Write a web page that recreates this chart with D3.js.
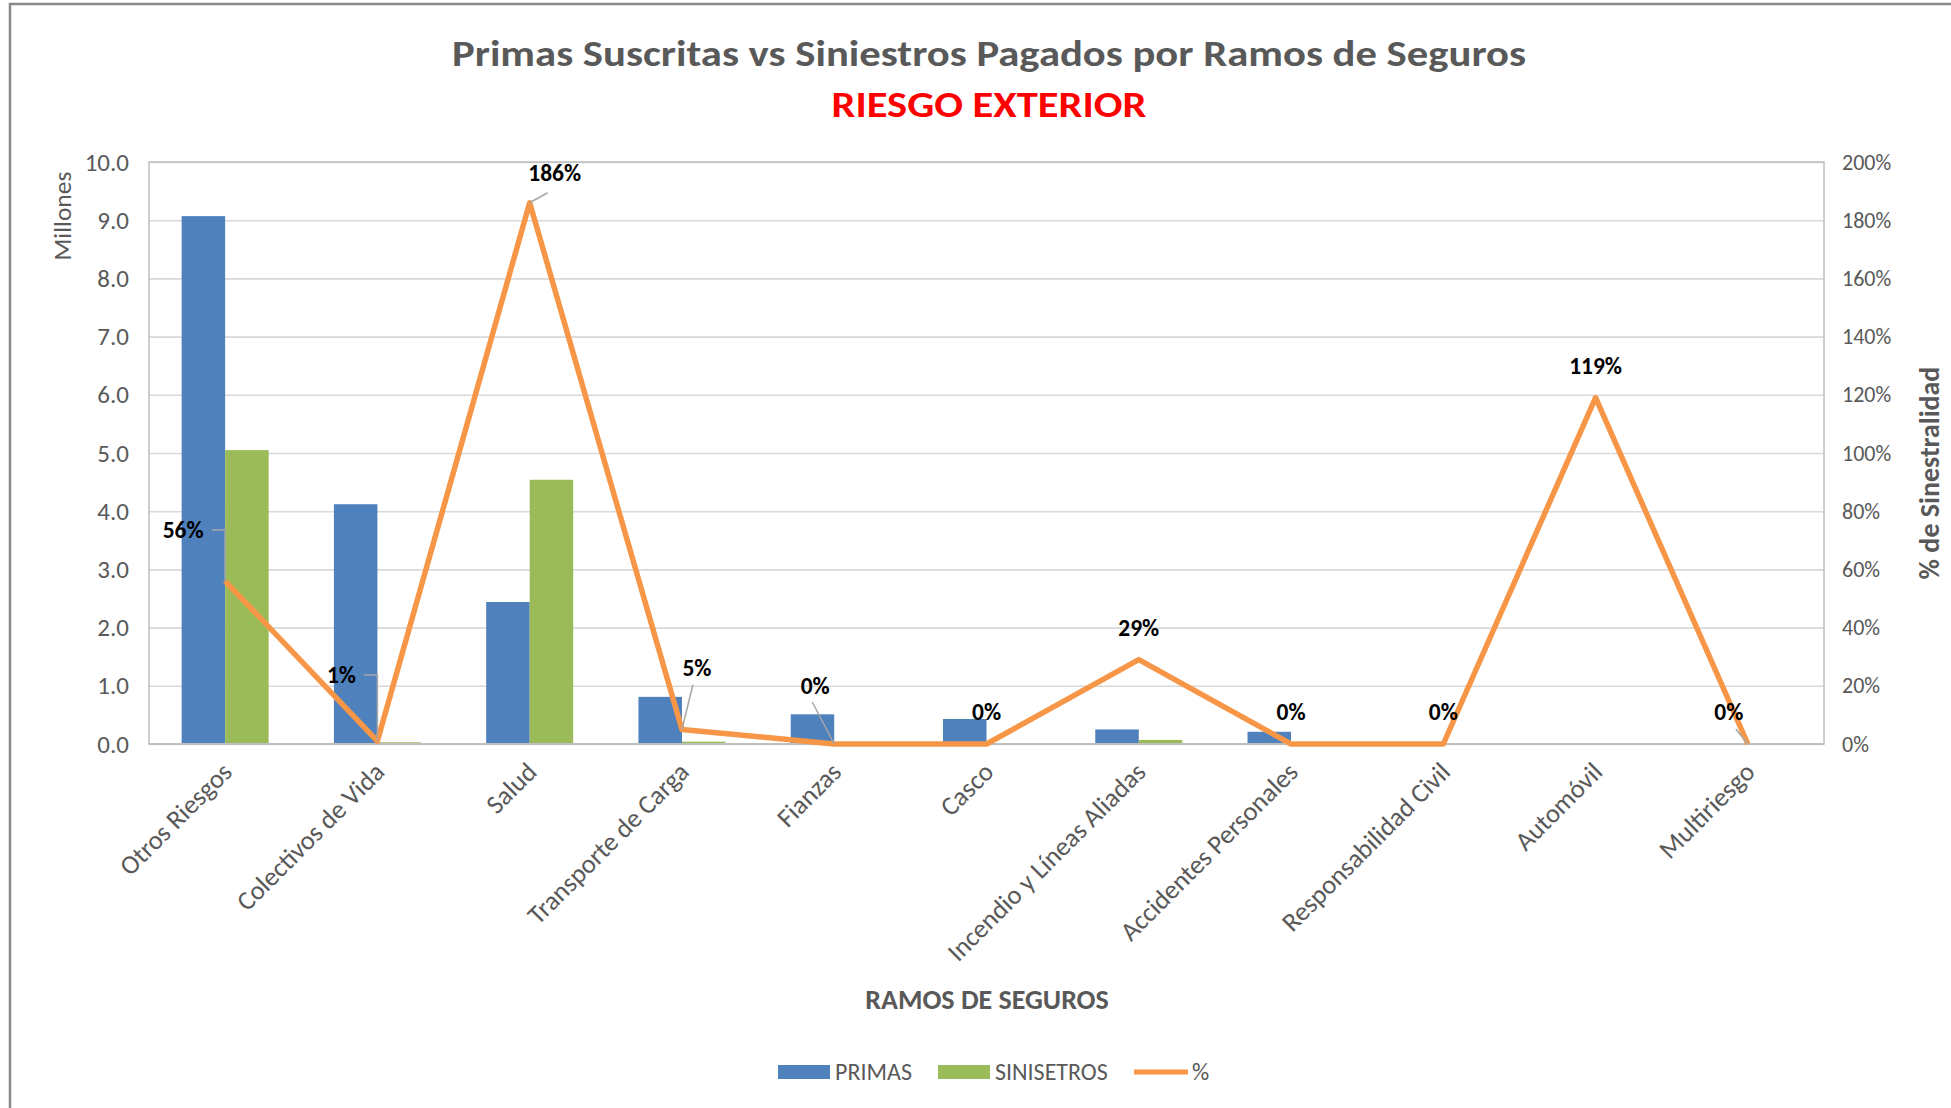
<!DOCTYPE html>
<html>
<head>
<meta charset="utf-8">
<script src="https://cdn.jsdelivr.net/npm/d3@7"></script>
<style>
  html, body { margin: 0; padding: 0; background: #fff; }
  svg { display: block; font-family: Calibri, Carlito, "Open Sans", sans-serif; }
</style>
</head>
<body>
<svg width="1951" height="1108"></svg>
<script>
// data (millions / ratio)
const categories = ["Otros Riesgos", "Colectivos de Vida", "Salud", "Transporte de Carga", "Fianzas", "Casco",
    "Incendio y Líneas Aliadas", "Accidentes Personales", "Responsabilidad Civil", "Automóvil", "Multiriesgo"];
const primas = [9.07, 4.12, 2.44, 0.81, 0.51, 0.43, 0.25, 0.21, 0, 0.005, 0.004];
const siniestros = [5.05, 0.03, 4.54, 0.04, 0, 0, 0.07, 0, 0, 0.006, 0];
const siniestralidad = [0.56, 0.01, 1.86, 0.05, 0, 0, 0.29, 0, 0, 1.19, 0];
const leftTicks = [0, 1, 2, 3, 4, 5, 6, 7, 8, 9, 10];
const rightTicks = [0, 0.2, 0.4, 0.6, 0.8, 1.0, 1.2, 1.4, 1.6, 1.8, 2.0];
const seriesNames = ["PRIMAS", "SINISETROS", "%"];

// where excel left the data labels (offset from point), and leader lines
const labelLayout = [
    {dx: -42, dy: -51, lead: 'elbow'},
    {dx: -36, dy: -66, lead: 'elbow'},
    {dx: 25, dy: -30, lead: [-7, 20]},
    {dx: 15, dy: -62, lead: [-4, 17]},
    {dx: -19, dy: -58, lead: [-3, 16]},
    {dx: 0, dy: -32},
    {dx: 0, dy: -32},
    {dx: 0, dy: -32},
    {dx: 0, dy: -32},
    {dx: 0, dy: -32},
    {dx: -19, dy: -32, lead: [7, 17]}
];

const colors = {primas: '#4F81BD', siniestros: '#9BBB59', pct: '#F79646', text: '#595959', grid: '#D9D9D9'};
const plot = {left: 149, right: 1824, top: 162, bottom: 744};

const svg = d3.select('svg');

// outer chart frame
svg.append('rect')
    .attr('x', 10).attr('y', 4)
    .attr('width', 2100).attr('height', 1300)
    .attr('fill', 'none')
    .attr('stroke', '#888')
    .attr('stroke-width', 2.5);

const x = d3.scaleBand().domain(categories).range([plot.left, plot.right]).paddingInner(0).paddingOuter(0);
const xSeries = d3.scaleBand().domain(['p', 's']).range([0, x.bandwidth()]).paddingInner(0).paddingOuter(0.75);
const yLeft = d3.scaleLinear().domain([0, 10]).range([plot.bottom, plot.top]);
const yRight = d3.scaleLinear().domain([0, 2]).range([plot.bottom, plot.top]);

// gridlines
svg.append('g')
    .attr('transform', `translate(${plot.left},0)`)
    .call(d3.axisLeft(yLeft).tickValues(leftTicks).tickSize(-(plot.right - plot.left)).tickFormat(''))
    .call(g => g.select('.domain').remove())
    .call(g => g.selectAll('line').attr('stroke', colors.grid).attr('stroke-width', 1.6));

// plot area border
svg.append('rect')
    .attr('x', plot.left).attr('y', plot.top)
    .attr('width', plot.right - plot.left).attr('height', plot.bottom - plot.top)
    .attr('fill', 'none').attr('stroke', '#BFBFBF').attr('stroke-width', 1.5);

// left axis labels
svg.append('g')
    .attr('transform', `translate(${plot.left},0)`)
    .call(d3.axisLeft(yLeft).tickValues(leftTicks).tickSize(0).tickPadding(20).tickFormat(d3.format('.1f')))
    .call(g => g.select('.domain').remove())
    .call(g => g.selectAll('text').attr('fill', colors.text).style('font-size', '25px')
        .style('font-family', 'Calibri, Carlito, "Open Sans", sans-serif'));

// right axis labels
svg.append('g')
    .attr('transform', `translate(${plot.right},0)`)
    .call(d3.axisRight(yRight).tickValues(rightTicks).tickSize(0).tickPadding(18).tickFormat(d3.format('.0%')))
    .call(g => g.select('.domain').remove())
    .call(g => g.selectAll('text').attr('fill', colors.text).style('font-size', '22px')
        .style('font-family', 'Calibri, Carlito, "Open Sans", sans-serif'));

// bars
const bars = svg.append('g');
bars.selectAll('rect.primas')
    .data(primas).enter()
    .append('rect')
    .attr('class', 'primas')
    .attr('x', (d, i) => x(categories[i]) + xSeries('p'))
    .attr('width', xSeries.bandwidth())
    .attr('y', d => yLeft(d))
    .attr('height', d => yLeft(0) - yLeft(d))
    .attr('fill', colors.primas);
bars.selectAll('rect.sin')
    .data(siniestros).enter()
    .append('rect')
    .attr('class', 'sin')
    .attr('x', (d, i) => x(categories[i]) + xSeries('s'))
    .attr('width', xSeries.bandwidth())
    .attr('y', d => yLeft(d))
    .attr('height', d => yLeft(0) - yLeft(d))
    .attr('fill', colors.siniestros);

// x axis line + labels
svg.append('line')
    .attr('x1', plot.left).attr('x2', plot.right)
    .attr('y1', plot.bottom).attr('y2', plot.bottom)
    .attr('stroke', '#BFBFBF').attr('stroke-width', 2);

const cx = i => x(categories[i]) + x.bandwidth() / 2;

svg.append('g').selectAll('text')
    .data(categories).enter()
    .append('text')
    .attr('transform', (d, i) => `translate(${cx(i) + 2},${plot.bottom + 23}) rotate(-45)`)
    .attr('text-anchor', 'end')
    .attr('dy', '0.35em')
    .attr('fill', colors.text)
    .style('font-size', '26.5px')
    .text(d => d);

// % line
const pts = siniestralidad.map((v, i) => [cx(i), yRight(v)]);
svg.append('path')
    .attr('d', d3.line()(pts))
    .attr('fill', 'none')
    .attr('stroke', colors.pct)
    .attr('stroke-width', 5.5)
    .attr('stroke-linejoin', 'round');

// data labels with leader lines
const labels = svg.append('g');
siniestralidad.forEach((v, i) => {
    const [px, py] = pts[i];
    const lay = labelLayout[i];
    const tx = px + lay.dx, ty = py + lay.dy;
    const t = labels.append('text')
        .attr('x', tx).attr('y', ty)
        .attr('dy', '0.35em')
        .attr('text-anchor', 'middle')
        .attr('font-weight', 'bold')
        .attr('fill', '#000')
        .style('font-size', '23.5px')
        .text(d3.format('.0%')(v));
    if (!lay.lead) return;
    let d;
    if (lay.lead === 'elbow') {
        const bb = t.node().getBBox();
        d = `M${bb.x + bb.width + 8} ${ty} L${px} ${ty} L${px} ${py}`;
    } else {
        d = `M${tx + lay.lead[0]} ${ty + lay.lead[1]} L${px} ${py}`;
    }
    labels.append('path')
        .attr('d', d)
        .attr('fill', 'none')
        .attr('stroke', '#A6A6A6')
        .attr('stroke-width', 1.5);
});

// titles
svg.append('text')
    .attr('x', 989).attr('y', 66)
    .attr('text-anchor', 'middle')
    .attr('font-weight', 'bold')
    .attr('fill', colors.text)
    .attr('textLength', 1074).attr('lengthAdjust', 'spacingAndGlyphs')
    .style('font-size', '37px')
    .text('Primas Suscritas vs Siniestros Pagados por Ramos de Seguros');
svg.append('text')
    .attr('x', 989).attr('y', 117)
    .attr('text-anchor', 'middle')
    .attr('font-weight', 'bold')
    .attr('fill', '#FF0000')
    .attr('textLength', 315).attr('lengthAdjust', 'spacingAndGlyphs')
    .style('font-size', '37px')
    .text('RIESGO EXTERIOR');

// axis titles
svg.append('text')
    .attr('transform', `translate(71,216) rotate(-90)`)
    .attr('text-anchor', 'middle')
    .attr('fill', colors.text)
    .style('font-size', '25.5px')
    .text('Millones');
svg.append('text')
    .attr('transform', `translate(1939,473) rotate(-90)`)
    .attr('text-anchor', 'middle')
    .attr('font-weight', 'bold')
    .attr('fill', colors.text)
    .style('font-size', '28px')
    .text('% de Sinestralidad');
svg.append('text')
    .attr('x', 987).attr('y', 1009)
    .attr('text-anchor', 'middle')
    .attr('font-weight', 'bold')
    .attr('fill', colors.text)
    .style('font-size', '28px')
    .text('RAMOS DE SEGUROS');

// legend
const legend = svg.append('g').attr('transform', 'translate(778,1072)');
const legendItems = [
    {name: seriesNames[0], color: colors.primas, type: 'rect', x: 0},
    {name: seriesNames[1], color: colors.siniestros, type: 'rect', x: 160},
    {name: seriesNames[2], color: colors.pct, type: 'line', x: 356}
];
legendItems.forEach(it => {
    const g = legend.append('g').attr('transform', `translate(${it.x},0)`);
    if (it.type === 'rect') {
        g.append('rect').attr('x', 0).attr('y', -7).attr('width', 52).attr('height', 14).attr('fill', it.color);
    } else {
        g.append('line').attr('x1', 0).attr('x2', 54).attr('y1', 0).attr('y2', 0)
            .attr('stroke', it.color).attr('stroke-width', 5);
    }
    g.append('text')
        .attr('x', it.type === 'rect' ? 57 : 58).attr('y', 0)
        .attr('dy', '0.35em')
        .attr('fill', colors.text)
        .style('font-size', '24px')
        .text(it.name);
});
</script>
</body>
</html>
